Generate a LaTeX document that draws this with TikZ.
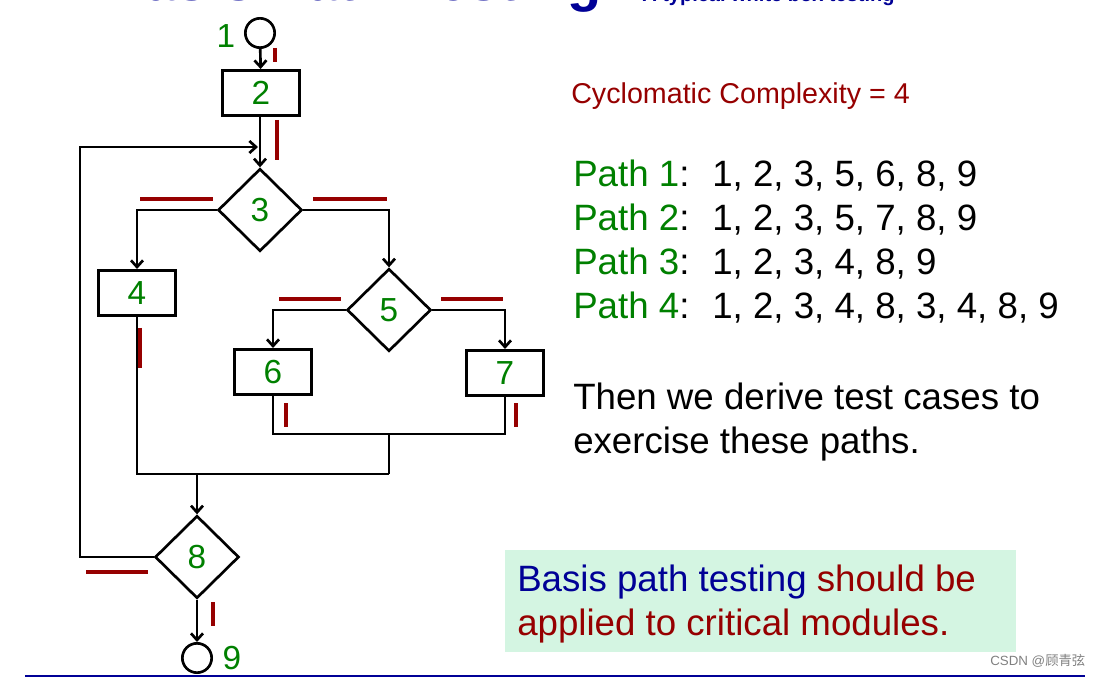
\documentclass[tikz,border=0pt]{standalone}
\usepackage{fontspec}
\setmainfont{Liberation Sans}
\newfontfamily\cjk{Noto Sans CJK SC}
\usetikzlibrary{shapes.geometric,arrows.meta}
\definecolor{gr}{RGB}{0,128,0}
\definecolor{dr}{RGB}{150,0,0}
\definecolor{nb}{RGB}{0,0,150}
\definecolor{mint}{RGB}{212,245,226}
\begin{document}
\begin{tikzpicture}[x=0.75pt,y=-0.75pt,
  box/.style={draw,line width=2pt,minimum width=58pt,minimum height=34pt,inner sep=0pt,text=gr,font=\fontsize{25}{25}\selectfont},
  dia/.style={draw,diamond,line width=2pt,minimum width=63pt,minimum height=62pt,inner sep=0pt,text=gr,font=\fontsize{25}{25}\selectfont},
  circ/.style={draw,circle,line width=2pt,minimum size=22pt,inner sep=0pt},
  ln/.style={line width=2pt},
  ar/.style={ln,-{Straight Barb[length=5pt,width=9pt,line width=2pt]}},
  rd/.style={dr,line width=2.4pt},
  lbl/.style={text=gr,font=\fontsize{25}{25}\selectfont,inner sep=0pt},
  big/.style={font=\fontsize{27.5}{27.5}\selectfont,inner sep=0pt,anchor=base west}]
\useasboundingbox (0,0) rectangle (1107,677);
% title (cut off at the top edge, as in the reference)
\node[anchor=base west,inner sep=0pt,text=nb,font=\bfseries\fontsize{42}{42}\selectfont] (title) at (105,1) {Basis Path Testing};
\node[anchor=base west,inner sep=0pt,text=nb,font=\bfseries\fontsize{15}{15}\selectfont] (sub) at (642,2) {A typical white box testing};
% nodes
\node[circ] (n1) at (260,33) {};
\node[lbl] (l1) at (226,36) {1};
\node[box] (n2) at (261,93) {2};
\node[dia] (n3) at (260,210) {3};
\node[box] (n4) at (137,293) {4};
\node[dia] (n5) at (389,310) {5};
\node[box] (n6) at (273,372) {6};
\node[box] (n7) at (505,373) {7};
\node[dia] (n8) at (197,557) {8};
\node[circ] (n9) at (197,658) {};
\node[lbl] (l9) at (232,658) {9};
\coordinate (j1) at (389,434);
\coordinate (j2) at (389,474);
\coordinate (j3) at (197,474);
\coordinate (lp) at (258,147);
% edges
\draw[ar] (n1) -- (n2);
\draw[ar] (n2.south -| n3) -- (n3);
\draw[ar] (n8.west) -- (80,557) -- (80,147) -- (lp);
\draw[ar] (n3.west) -| (n4.north);
\draw[ar] (n3.east) -| (n5.north);
\draw[ar] (n5.west) -| (n6.north);
\draw[ar] (n5.east) -| (n7.north);
\draw[ln] (n6.south) |- (j1) -| (n7.south);
\draw[ln] (j1) -- (j2);
\draw[ln] (n4.south) |- (j2);
\draw[ar] (j3) -- (n8.north);
\draw[ar] (n8.south) -- (n9);
% red marks
\draw[rd] (275,48) -- (275,62);
\draw[rd] (277,120) -- (277,160);
\draw[rd] (140,199) -- (213,199);
\draw[rd] (313,199) -- (387,199);
\draw[rd] (279,299) -- (341,299);
\draw[rd] (441,299) -- (503,299);
\draw[rd] (140,328) -- (140,368);
\draw[rd] (286,403) -- (286,427);
\draw[rd] (516,403) -- (516,427);
\draw[rd] (86,572) -- (148,572);
\draw[rd] (213,602) -- (213,626);
% text
\node[anchor=base west,inner sep=0pt,text=dr,font=\fontsize{21.5}{21.5}\selectfont] (cc) at (571,104) {Cyclomatic Complexity = 4};
\foreach \i/\y/\p in {1/187/{1, 2, 3, 5, 6, 8, 9},2/231/{1, 2, 3, 5, 7, 8, 9},3/275/{1, 2, 3, 4, 8, 9},4/319/{1, 2, 3, 4, 8, 3, 4, 8, 9}}{
  \node[big,text=gr] (p\i) at (573,\y) {Path \i\textcolor{black}{:}};
  \node[big] (q\i) at (712,\y) {\p};
}
\node[big] (t1) at (573,409) {Then we derive test cases to};
\node[big] (t2) at (573,453) {exercise these paths.};
\fill[mint] (505,550) rectangle (1016,652);
\node[big,text=nb] (g1) at (517,591) {Basis path testing \textcolor{dr}{should be}};
\node[big,text=dr] (g2) at (517,635) {applied to critical modules.};
\draw[nb,line width=1pt] (25,676) -- (1085,676);
\node[anchor=base west,inner sep=0pt,text=gray,font=\fontsize{10}{10}\selectfont] (csdn) at (990,665) {CSDN @{\cjk 顾青弦}};
\end{tikzpicture}
\end{document}
